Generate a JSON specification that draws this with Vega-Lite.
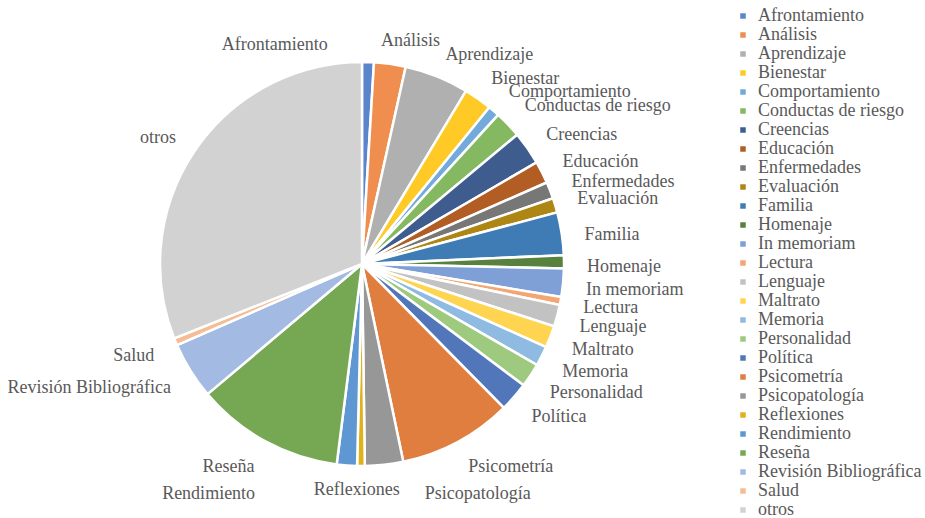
{
  "$schema": "https://vega.github.io/schema/vega-lite/v6.json",
  "width": 724,
  "height": 508,
  "autosize": {"type": "none"},
  "padding": {"left": 0, "top": 10, "right": 201, "bottom": 0},
  "background": "#ffffff",
  "config": {"view": {"stroke": null}, "font": "Liberation Serif"},
  "data": {"values": [
    {"cat": "Afrontamiento", "n": 3.4},
    {"cat": "Análisis", "n": 9.1},
    {"cat": "Aprendizaje", "n": 18.5},
    {"cat": "Bienestar", "n": 8.1},
    {"cat": "Comportamiento", "n": 3.3},
    {"cat": "Conductas de riesgo", "n": 7.8},
    {"cat": "Creencias", "n": 9.6},
    {"cat": "Educación", "n": 6.4},
    {"cat": "Enfermedades", "n": 4.8},
    {"cat": "Evaluación", "n": 4.2},
    {"cat": "Familia", "n": 12.3},
    {"cat": "Homenaje", "n": 3.8},
    {"cat": "In memoriam", "n": 8.1},
    {"cat": "Lectura", "n": 2.3},
    {"cat": "Lenguaje", "n": 6.3},
    {"cat": "Maltrato", "n": 6.3},
    {"cat": "Memoria", "n": 5.7},
    {"cat": "Personalidad", "n": 6.9},
    {"cat": "Política", "n": 8.5},
    {"cat": "Psicometría", "n": 32.8},
    {"cat": "Psicopatología", "n": 11.0},
    {"cat": "Reflexiones", "n": 2.2},
    {"cat": "Rendimiento", "n": 5.8},
    {"cat": "Reseña", "n": 42.7},
    {"cat": "Revisión Bibliográfica", "n": 16.4},
    {"cat": "Salud", "n": 2.1},
    {"cat": "otros", "n": 111.6}
  ]},
  "layer": [
    {
      "mark": {"type": "arc", "outerRadius": 202, "stroke": "#ffffff", "strokeWidth": 2.5},
      "encoding": {
        "theta": {"field": "n", "type": "quantitative", "stack": true},
        "order": {"field": "cat", "sort": "ascending"},
        "color": {
          "field": "cat",
          "type": "nominal",
          "scale": {
            "domain": ["Afrontamiento", "Análisis", "Aprendizaje", "Bienestar", "Comportamiento", "Conductas de riesgo", "Creencias", "Educación", "Enfermedades", "Evaluación", "Familia", "Homenaje", "In memoriam", "Lectura", "Lenguaje", "Maltrato", "Memoria", "Personalidad", "Política", "Psicometría", "Psicopatología", "Reflexiones", "Rendimiento", "Reseña", "Revisión Bibliográfica", "Salud", "otros"],
            "range": ["#5A84CC", "#EF8E4E", "#B0B0B0", "#FFC926", "#72AADB", "#84B861", "#3F5C8F", "#B15D24", "#777777", "#AD8613", "#3F7CB5", "#58813D", "#7F9FD7", "#F3A672", "#C2C2C2", "#FFD451", "#8FBBE2", "#9DCA7E", "#5176BA", "#E07E40", "#979797", "#E0B21A", "#5E97D2", "#76A853", "#A3BAE3", "#F6BC95", "#D2D2D2"]
          },
          "legend": {
            "title": null,
            "orient": "none",
            "legendX": 734,
            "legendY": -3,
            "padding": 0,
            "symbolType": "square",
            "symbolSize": 30,
            "symbolStrokeWidth": 0,
            "labelFont": "Liberation Serif",
            "labelFontSize": 18,
            "labelColor": "#595959",
            "labelOffset": 6,
            "labelLimit": 300,
            "rowPadding": 1.0
          }
        }
      }
    },
    {
      "mark": {
        "type": "text",
        "radius": 225,
        "font": "Liberation Serif",
        "fontSize": 18,
        "color": "#595959",
        "baseline": "middle",
        "align": {"expr": "(datum.cat === 'Afrontamiento' || datum.cat === 'Rendimiento') ? 'right' : (datum.cat === 'Reflexiones' ? 'center' : ((datum.n_start + datum.n_end) / 2 < 180 ? 'left' : 'right'))"},
        "dx": {"expr": "datum.cat === 'Afrontamiento' ? -41 : (datum.cat === 'Rendimiento' ? -90 : (datum.cat === 'Psicopatología' ? 38 : (datum.cat === 'Reflexiones' ? -4 : (datum.cat === 'Análisis' ? -12 : 0))))"},
        "dy": {"expr": "datum.cat === 'Afrontamiento' ? 6 : (datum.cat === 'Rendimiento' || datum.cat === 'Psicopatología' ? 6 : (datum.cat === 'Reflexiones' ? 1 : (datum.cat === 'Bienestar' ? -1 : (datum.cat === 'Comportamiento' ? -2 : (datum.cat === 'Conductas de riesgo' ? -3 : (datum.cat === 'Lectura' ? 3 : (((datum.n_start + datum.n_end) / 2 > 78 && (datum.n_start + datum.n_end) / 2 < 285) ? 5 : 0)))))))"}
      },
      "encoding": {
        "theta": {"field": "n", "type": "quantitative", "stack": true},
        "order": {"field": "cat", "sort": "ascending"},
        "detail": {"field": "cat", "type": "nominal"},
        "text": {"field": "cat", "type": "nominal"}
      }
    }
  ]
}
